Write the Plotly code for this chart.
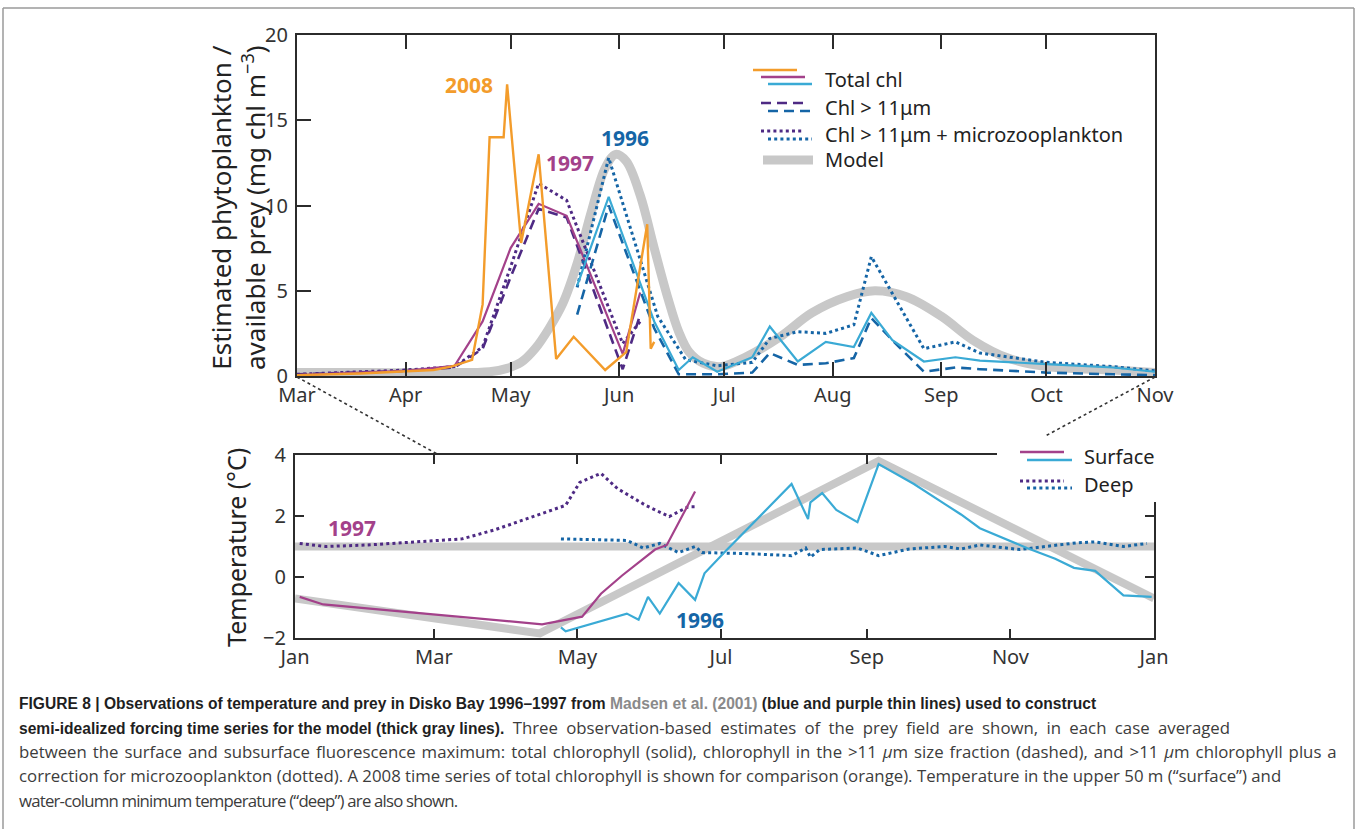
import plotly.graph_objects as go

W, H = 1357, 829


def px(x):
    return x / W


def py(y):
    return 1 - y / H


ORANGE = "#F39C2B"
MAGENTA = "#A3418A"
LBLUE = "#3AAAD5"
DBLUE = "#1565A6"
PURPLE = "#4E2A84"
GRAY = "#C8C8C8"
AXC = "#2b2b2b"
FONT = "Noto Sans"

# ---------------- top panel data (prey) ----------------
model_top_dates = ["2001-03-01", "2001-03-21", "2001-04-10", "2001-04-25", "2001-04-30", "2001-05-04",
                   "2001-05-08", "2001-05-12", "2001-05-16", "2001-05-20", "2001-05-24", "2001-05-28",
                   "2001-05-31", "2001-06-03", "2001-06-07", "2001-06-11", "2001-06-15", "2001-06-18",
                   "2001-06-21", "2001-06-25", "2001-06-30", "2001-07-07", "2001-07-17", "2001-07-26",
                   "2001-08-05", "2001-08-13", "2001-08-22", "2001-09-01", "2001-09-10", "2001-09-20",
                   "2001-10-01", "2001-10-20", "2001-11-01"]
model_top = [0.2, 0.2, 0.2, 0.25, 0.45, 0.8, 1.6, 2.8, 4.3, 6.6, 9.6, 12.2, 13.0, 12.6, 10.6, 7.5, 4.5,
             2.6, 1.4, 0.75, 0.55, 1.1, 2.3, 3.7, 4.65, 5.0, 4.65, 3.5, 2.1, 1.05, 0.55, 0.35, 0.2]

chl2008_dates = ["2001-03-01", "2001-03-19", "2001-04-09", "2001-04-14", "2001-04-20", "2001-04-23",
                 "2001-04-25", "2001-04-29", "2001-04-30", "2001-05-04", "2001-05-09", "2001-05-14",
                 "2001-05-19", "2001-05-28", "2001-06-03", "2001-06-09", "2001-06-10", "2001-06-11"]
chl2008 = [0.05, 0.15, 0.35, 0.55, 0.95, 4.2, 14.0, 14.0, 17.1, 7.8, 13.0, 1.0, 2.3, 0.35, 1.4, 8.9, 1.6, 2.0]

chl1997_dates = ["2001-03-01", "2001-04-01", "2001-04-15", "2001-04-23", "2001-05-01", "2001-05-09",
                 "2001-05-17", "2001-06-02", "2001-06-07"]
tot1997 = [0.05, 0.3, 0.6, 3.2, 7.5, 10.1, 9.4, 1.3, 4.9]
big1997 = [0.1, 0.3, 0.5, 1.6, 5.8, 9.8, 9.3, 0.4, 3.6]
bigmz1997 = [0.1, 0.35, 0.55, 1.7, 6.4, 11.3, 10.3, 1.9, 3.2]

tot1996_dates = ["2001-05-20", "2001-05-29", "2001-06-11", "2001-06-18", "2001-06-22", "2001-06-29",
                 "2001-07-09", "2001-07-14", "2001-07-22", "2001-07-30", "2001-08-07", "2001-08-12",
                 "2001-08-18", "2001-08-27", "2001-09-05", "2001-09-12", "2001-10-01", "2001-10-20",
                 "2001-11-01"]
tot1996 = [5.3, 10.5, 3.2, 0.35, 1.1, 0.25, 1.1, 2.9, 0.85, 2.0, 1.7, 3.7, 2.1, 0.85, 1.1, 0.9, 0.7, 0.5, 0.25]

big1996_dates = ["2001-05-20", "2001-05-29", "2001-06-11", "2001-06-18", "2001-06-29", "2001-07-09",
                 "2001-07-14", "2001-07-22", "2001-07-30", "2001-08-07", "2001-08-12", "2001-08-18",
                 "2001-08-27", "2001-09-05", "2001-09-12", "2001-10-01", "2001-10-20", "2001-11-01"]
big1996 = [3.6, 10.0, 2.8, 0.1, 0.1, 0.2, 1.35, 0.65, 0.75, 1.05, 3.4, 2.1, 0.25, 0.5, 0.4, 0.2, 0.1, 0.05]

bigmz1996_dates = ["2001-05-20", "2001-05-29", "2001-06-12", "2001-06-20", "2001-06-29", "2001-07-09",
                   "2001-07-14", "2001-07-22", "2001-07-30", "2001-08-07", "2001-08-12", "2001-08-27",
                   "2001-09-05", "2001-09-12", "2001-10-01", "2001-10-20", "2001-11-01"]
bigmz1996 = [5.2, 12.8, 3.5, 0.95, 0.6, 0.8, 2.2, 2.6, 2.5, 3.0, 7.0, 1.6, 2.0, 1.35, 0.8, 0.55, 0.3]

top_tick_dates = ["2001-03-01", "2001-04-01", "2001-05-01", "2001-06-01", "2001-07-01", "2001-08-01",
                  "2001-09-01", "2001-10-01", "2001-11-01"]
top_tick_labels = ["Mar", "Apr", "May", "Jun", "Jul", "Aug", "Sep", "Oct", "Nov"]
top_y_ticks = [0, 5, 10, 15, 20]

# ---------------- bottom panel data (temperature) ----------------
model_surf_dates = ["2001-01-01", "2001-04-15", "2001-09-06", "2002-01-01"]
model_surf = [-0.7, -1.85, 3.8, -0.7]
model_deep_dates = ["2001-01-01", "2002-01-01"]
model_deep = [1.0, 1.0]

surf1997_dates = ["2001-01-03", "2001-01-13", "2001-04-16", "2001-05-03", "2001-05-11", "2001-05-20",
                  "2001-06-03", "2001-06-08", "2001-06-20"]
surf1997 = [-0.65, -0.9, -1.55, -1.3, -0.55, 0.05, 0.9, 1.05, 2.8]

deep1997_dates = ["2001-01-03", "2001-01-14", "2001-02-01", "2001-03-13", "2001-03-27", "2001-04-26",
                  "2001-05-02", "2001-05-11", "2001-05-18", "2001-05-30", "2001-06-09", "2001-06-17",
                  "2001-06-20"]
deep1997 = [1.1, 1.0, 1.05, 1.25, 1.55, 2.35, 3.1, 3.4, 2.9, 2.35, 1.98, 2.3, 2.3]

surf1996_dates = ["2001-04-24", "2001-04-26", "2001-05-22", "2001-05-27", "2001-05-31", "2001-06-05",
                  "2001-06-13", "2001-06-20", "2001-06-24", "2001-07-03", "2001-07-31", "2001-08-07",
                  "2001-08-08", "2001-08-13", "2001-08-19", "2001-08-28", "2001-09-06", "2001-09-21",
                  "2001-10-04", "2001-10-11", "2001-10-19", "2001-10-28", "2001-11-08", "2001-11-20",
                  "2001-11-28", "2001-12-07", "2001-12-19", "2001-12-31"]
surf1996 = [-1.65, -1.78, -1.2, -1.4, -0.65, -1.2, -0.2, -0.75, 0.12, 0.85, 3.05, 1.9, 2.45, 2.75, 2.2,
            1.8, 3.7, 3.05, 2.4, 2.05, 1.6, 1.3, 0.95, 0.6, 0.3, 0.2, -0.6, -0.65]

deep1996_dates = ["2001-04-24", "2001-05-22", "2001-05-29", "2001-06-05", "2001-06-13", "2001-06-20",
                  "2001-06-23", "2001-07-11", "2001-07-31", "2001-08-06", "2001-08-08", "2001-08-12",
                  "2001-08-28", "2001-09-06", "2001-09-19", "2001-10-04", "2001-10-11", "2001-10-19",
                  "2001-11-05", "2001-11-29", "2001-12-07", "2001-12-19", "2001-12-29"]
deep1996 = [1.25, 1.2, 0.95, 1.1, 0.8, 1.0, 0.8, 0.77, 0.7, 0.95, 0.65, 0.9, 0.95, 0.7, 0.92, 1.0, 0.92,
            1.05, 0.9, 1.12, 1.15, 1.0, 1.1]

bot_tick_dates = ["2001-01-01", "2001-03-01", "2001-05-01", "2001-07-01", "2001-09-01", "2001-11-01",
                  "2002-01-01"]
bot_tick_labels = ["Jan", "Mar", "May", "Jul", "Sep", "Nov", "Jan"]
bot_y_ticks = [-2, 0, 2, 4]

DOT = "3px,3.2px"
DASH = "10px,6px"

fig = go.Figure()


def add(x, y, color, width, dash="solid", ax=1, shape="linear"):
    fig.add_trace(go.Scatter(
        x=x, y=y, mode="lines", showlegend=False, hoverinfo="skip",
        line=dict(color=color, width=width, dash=dash, shape=shape),
        xaxis="x" if ax == 1 else "x2", yaxis="y" if ax == 1 else "y2"))


# top panel
add(model_top_dates, model_top, GRAY, 9, shape="spline")
add(chl1997_dates, big1997, PURPLE, 2.6, DASH)
add(chl1997_dates, bigmz1997, PURPLE, 3, DOT)
add(chl1997_dates, tot1997, MAGENTA, 2.2)
add(big1996_dates, big1996, DBLUE, 2.6, DASH)
add(bigmz1996_dates, bigmz1996, DBLUE, 3, DOT)
add(tot1996_dates, tot1996, LBLUE, 2.2)
add(chl2008_dates, chl2008, ORANGE, 2.4)

# bottom panel
add(model_surf_dates, model_surf, GRAY, 8, ax=2)
add(model_deep_dates, model_deep, GRAY, 8, ax=2)
add(deep1997_dates, deep1997, PURPLE, 3, DOT, ax=2)
add(deep1996_dates, deep1996, DBLUE, 3, DOT, ax=2)
add(surf1997_dates, surf1997, MAGENTA, 2.2, ax=2)
add(surf1996_dates, surf1996, LBLUE, 2.2, ax=2)

axis_common = dict(showline=True, linecolor=AXC, linewidth=2, showgrid=False, zeroline=False,
                   ticks="inside", tickcolor=AXC, tickwidth=2, automargin=False,
                   tickfont=dict(family=FONT, size=20, color="#333"))

fig.update_layout(
    template="none",
    width=W, height=H,
    margin=dict(l=0, r=0, t=0, b=0, pad=0, autoexpand=False),
    paper_bgcolor="white", plot_bgcolor="rgba(0,0,0,0)",
    showlegend=False,
    xaxis=dict(domain=[px(297), px(1155)], anchor="y", type="date",
               range=["2001-03-01", "2001-11-01"], tickvals=top_tick_dates, ticktext=top_tick_labels,
               ticklen=14, mirror="ticks", **axis_common),
    yaxis=dict(domain=[py(376), py(35)], anchor="x", range=[0, 20], tickvals=top_y_ticks,
               ticklen=14, mirror=True, ticklabelstandoff=3, **axis_common),
    xaxis2=dict(domain=[px(295), px(1154)], anchor="y2", type="date",
                range=["2001-01-01", "2002-01-01"], tickvals=bot_tick_dates, ticktext=bot_tick_labels,
                ticklen=9, mirror="ticks", **axis_common),
    yaxis2=dict(domain=[py(638), py(455)], anchor="x2", range=[-2, 4], tickvals=bot_y_ticks,
                ticklen=9, mirror="ticks", ticklabelstandoff=3, **axis_common),
)

shapes = []


def pline(x0, y0, x1, y1, color, width, dash="solid", layer="above"):
    shapes.append(dict(type="line", xref="paper", yref="paper", x0=px(x0), y0=py(y0), x1=px(x1), y1=py(y1),
                       line=dict(color=color, width=width, dash=dash), layer=layer))


# outer frame (top, left, right)
pline(3, 8, 1354, 8, "#9a9a9a", 1.5, layer="below")
pline(3, 8, 3, 829, "#9a9a9a", 1.5, layer="below")
pline(1354, 8, 1354, 829, "#9a9a9a", 1.5, layer="below")
# connector lines (zoom indication)
pline(297, 377, 439, 455, "#333", 1.6, "dot")
pline(1155, 377, 1010, 455, "#333", 1.6, "dot")
# white box behind bottom legend
shapes.append(dict(type="rect", xref="paper", yref="paper", x0=px(997), x1=px(1165), y0=py(502), y1=py(436),
                   line=dict(width=0), fillcolor="white", layer="above"))

# top legend swatches
pline(753, 70, 797, 70, ORANGE, 2.4)
pline(761, 77, 805, 77, MAGENTA, 2.4)
pline(768, 84, 812, 84, LBLUE, 2.4)
pline(761, 103, 803, 103, PURPLE, 2.6, DASH)
pline(768, 111, 812, 111, DBLUE, 2.6, DASH)
pline(761, 131, 803, 131, PURPLE, 3, DOT)
pline(768, 139, 812, 139, DBLUE, 3, DOT)
pline(763, 160, 813, 160, GRAY, 9)
# bottom legend swatches
pline(1020, 452, 1064, 452, MAGENTA, 2.4)
pline(1027, 460, 1072, 460, LBLUE, 2.4)
pline(1020, 481, 1064, 481, PURPLE, 3, DOT)
pline(1027, 488, 1072, 488, DBLUE, 3, DOT)

fig.update_layout(shapes=shapes)

ann = []


def text(x, y, s, size=20, color="#222", xanchor="left", family=FONT, angle=0):
    ann.append(dict(xref="paper", yref="paper", x=px(x), y=py(y), text=s, showarrow=False,
                    xanchor=xanchor, yanchor="middle", textangle=angle,
                    font=dict(family=family, size=size, color=color)))


# legend labels
text(823, 79, "Total chl")
text(823, 107, "Chl > 11μm")
text(823, 135, "Chl > 11μm + microzooplankton")
text(823, 160, "Model")
text(1082, 456, "Surface")
text(1082, 484, "Deep")

# year labels
text(469, 85, "<b>2008</b>", 21, ORANGE, "center")
text(570, 163, "<b>1997</b>", 21, MAGENTA, "center")
text(625, 138, "<b>1996</b>", 21, DBLUE, "center")
text(352, 528, "<b>1997</b>", 21, MAGENTA, "center")
text(700, 620, "<b>1996</b>", 21, DBLUE, "center")

# axis titles
text(238, 208, "Estimated phytoplankton /<br>available prey (mg chl m<sup>−3</sup>)", 26, "#222", "center",
     angle=-90)
text(236, 548, "Temperature (°C)", 25, "#222", "center", angle=-90)

# caption
BF = "Liberation Sans"
RF = "Open Sans"


def B(s, color="#1f1f1f"):
    return f"<span style='font-family:{BF};font-size:15.6px;font-weight:bold;fill:{color}'>{s}</span>"


def R(s, extra=""):
    return f"<span style='font-family:{RF};font-size:16.8px;fill:#3c3c3c;{extra}'>{s}</span>"


cap = [
    B("FIGURE 8 | Observations of temperature and prey in Disko Bay 1996–1997 from ")
    + B("Madsen et al. (2001)", "#8a8a8a") + B(" (blue and purple thin lines) used to construct"),
    B("semi-idealized forcing time series for the model (thick gray lines).")
    + R(" Three observation-based estimates of the prey field are shown, in each case averaged",
        "word-spacing:4px"),
    R("between the surface and subsurface fluorescence maximum: total chlorophyll (solid), chlorophyll in the "
      ">11 <i>μ</i>m size fraction (dashed), and >11 <i>μ</i>m chlorophyll plus a", "word-spacing:1.6px"),
    R("correction for microzooplankton (dotted). A 2008 time series of total chlorophyll is shown for comparison "
      "(orange). Temperature in the upper 50 m (“surface”) and"),
    R("water-column minimum temperature (“deep”) are also shown.", "letter-spacing:-0.8px"),
]
for i, line in enumerate(cap):
    text(17, 703 + 24.3 * i, line, 16, "#3a3a3a", "left", family=RF)

fig.update_layout(annotations=ann)

fig.write_html("out.html", config={"displayModeBar": False, "staticPlot": True},
               post_script="document.body.style.margin='0px';document.body.style.padding='0px';")
